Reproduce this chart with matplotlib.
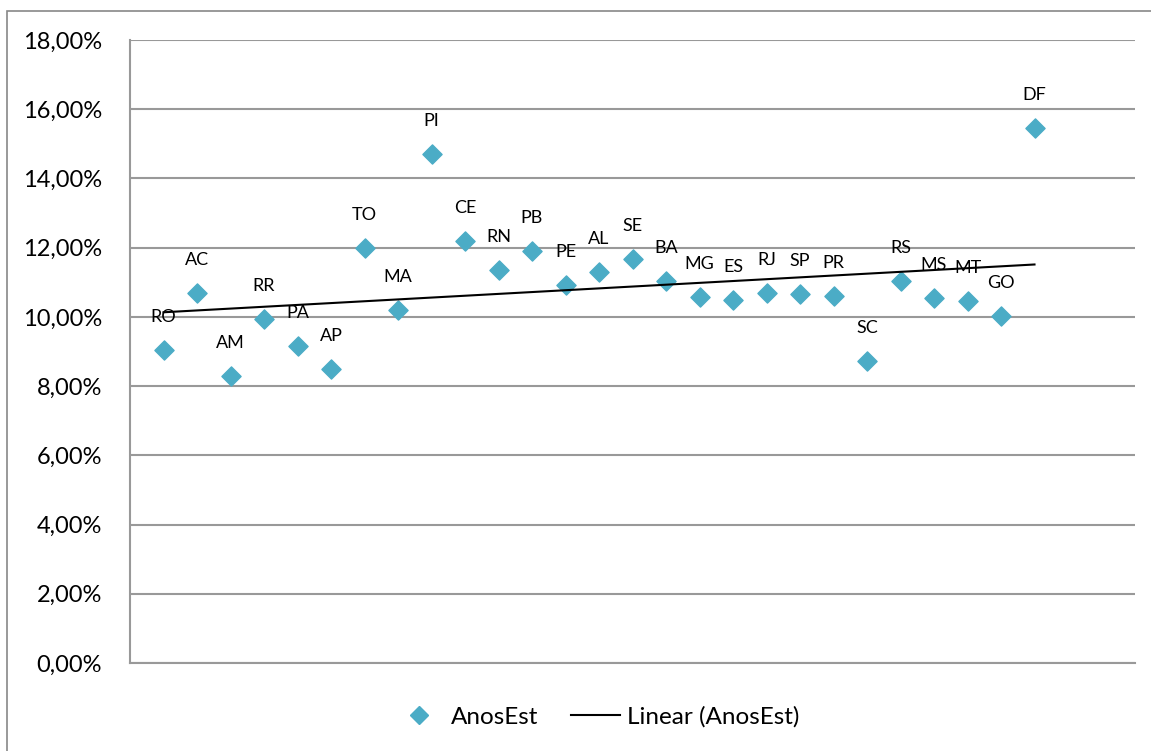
import numpy as np
from matplotlib import pyplot as plt
from matplotlib.lines import Line2D
from matplotlib.patches import Rectangle
from matplotlib.ticker import FuncFormatter

# Estados e anos de estudo (%)
estados = ['RO', 'AC', 'AM', 'RR', 'PA', 'AP', 'TO', 'MA', 'PI', 'CE', 'RN', 'PB',
           'PE', 'AL', 'SE', 'BA', 'MG', 'ES', 'RJ', 'SP', 'PR', 'SC', 'RS', 'MS',
           'MT', 'GO', 'DF']
anos_est = [9.05, 10.69, 8.29, 9.94, 9.16, 8.50, 11.99, 10.20, 14.71, 12.20, 11.36, 11.91,
            10.92, 11.30, 11.68, 11.04, 10.58, 10.49, 10.69, 10.66, 10.61, 8.73, 11.04, 10.55,
            10.46, 10.03, 15.46]

x = np.arange(1, len(estados) + 1)
y = np.array(anos_est) / 100

plt.rcParams['font.family'] = ['Lato', 'DejaVu Sans']

fig = plt.figure(figsize=(11.51, 7.51), dpi=100)
ax = fig.add_axes([130 / 1151, 88 / 751, 1005 / 1151, 623 / 751])

# moldura externa
fig.patches.append(Rectangle((7 / 1151, -0.1), 1.2, (751 - 11) / 751 + 0.1,
                             transform=fig.transFigure, fill=False,
                             edgecolor='#888888', linewidth=1.2))

cor = '#4BACC6'
ax.scatter(x, y, marker='D', s=95, color=cor, zorder=3)

# linha de tendência
a, b = np.polyfit(x, y, 1)
ax.plot([x[0], x[-1]], [a * x[0] + b, a * x[-1] + b], color='black', lw=1.5, zorder=4)

for xi, yi, nome in zip(x, y, estados):
    ax.annotate(nome, (xi, yi), xytext=(0, 33), textcoords='offset pixels',
                ha='center', va='center', fontsize=13)

ax.set_xlim(0, 30)
ax.set_ylim(0, 0.18)
ax.set_yticks(np.arange(0, 0.181, 0.02))
ax.yaxis.set_major_formatter(FuncFormatter(lambda v, p: f'{v * 100:.2f}%'.replace('.', ',')))
ax.set_xticks([])
ax.grid(axis='y', color='#999999', lw=1.5)
ax.set_axisbelow(True)
ax.tick_params(axis='y', length=0, labelsize=17, pad=20)
for s in ['top', 'right']:
    ax.spines[s].set_visible(False)
for s in ['left', 'bottom']:
    ax.spines[s].set_color('#999999')
    ax.spines[s].set_linewidth(1.5)

handles = [Line2D([], [], marker='D', color=cor, ls='none', markersize=9),
           Line2D([], [], color='black', lw=1.5)]
fig.legend(handles, ['AnosEst', 'Linear (AnosEst)'], loc='center',
           bbox_to_anchor=(597 / 1151, 1 - 717 / 751), ncol=2, frameon=False,
           fontsize=17.5, handlelength=2.0, handletextpad=0.3, columnspacing=1.35)

fig.savefig('out.png', dpi=100)
